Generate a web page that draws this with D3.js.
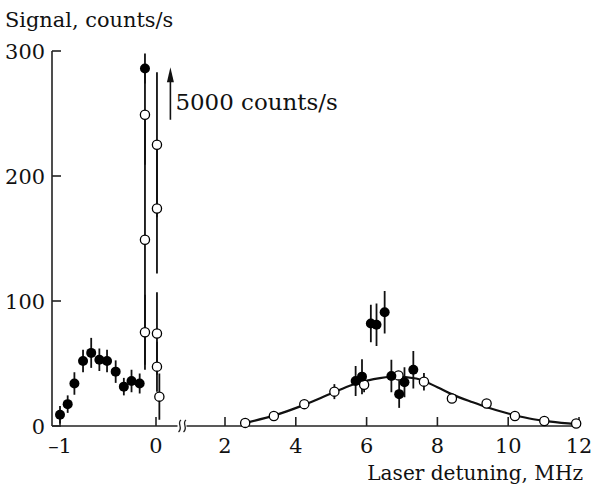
<!DOCTYPE html>
<html>
<head>
<meta charset="utf-8">
<script src="https://cdn.jsdelivr.net/npm/d3@7"></script>
<style>
  html, body { margin: 0; padding: 0; background: #fff; }
  svg { display: block; }
</style>
</head>
<body>
<svg id="chart" width="595" height="490"></svg>
<script>
// Signal vs laser detuning: [detuning MHz, signal counts/s, error half-width]
const leftSolid = [
  [-1.00, 9, 7], [-0.92, 17.5, 7], [-0.85, 34, 9], [-0.76, 52, 9],
  [-0.675, 58.5, 12], [-0.59, 53, 9], [-0.51, 52, 9], [-0.42, 43.5, 9],
  [-0.335, 31.5, 7], [-0.255, 36, 9], [-0.17, 34, 8], [-0.115, 286, 12]
];
const leftOpen = [
  [-0.115, 249, 40], [-0.115, 149, 100], [-0.115, 75, 30],
  [0.01, 225, 58], [0.01, 174, 52], [0.01, 74, 33], [0.01, 47.5, 20], [0.035, 23.5, 18.5]
];
const rightOpen = [
  [2.57, 2.5, 0], [3.38, 8, 0], [4.24, 17.5, 0], [5.09, 27.5, 6], [5.93, 33, 6],
  [6.9, 40.5, 0], [7.62, 35.5, 7], [8.41, 22, 0], [9.39, 18, 0], [10.19, 8, 0],
  [11.02, 4, 0], [11.92, 2, 0]
];
const rightSolid = [
  [5.69, 36, 12], [5.87, 39.5, 14], [6.12, 82, 15], [6.28, 81, 17], [6.51, 91, 17],
  [6.7, 40, 13], [6.92, 25.5, 11], [7.07, 35, 12], [7.32, 45, 15]
];
// Fitted profile through the resonance
const fitCurve = [
  [2.57, 2.5], [3.4, 8.5], [4.2, 16.5], [5.0, 26], [5.6, 33], [6.2, 37.5], [6.8, 39.5],
  [7.4, 38], [8.0, 31], [8.4, 25.5], [9.0, 19], [9.4, 15], [10.0, 10], [10.6, 6],
  [11.2, 3.5], [11.92, 1.5]
];
const yTicks = [0, 100, 200, 300];
const xTicksLeft = [-1, 0];
const xTicksRight = [2, 4, 6, 8, 10, 12];
const fmtTick = d => d < 0 ? "\u2013" + Math.abs(d) : String(d);

const svg = d3.select("#chart");
const FONT = "DejaVu Serif";
const FS = 20.5;

const y = d3.scaleLinear().domain([0, 300]).range([426, 51]);
const xL = d3.scaleLinear().domain([-1, 0]).range([60, 156]);
const xR = d3.scaleLinear().domain([2, 12]).range([225, 579]);

const axisY = 52, baseY = y(0), axisEnd = xR(12) + 1;
const breakX = 181.5;

function label(x, yy, str, anchor, size, sx) {
  return svg.append("text")
    .attr("transform", `translate(${x},${yy}) scale(${sx || 1.02},1)`)
    .style("font-family", FONT)
    .attr("font-size", size || FS)
    .attr("fill", "#111")
    .attr("text-anchor", anchor || "start")
    .text(str);
}

// axes
const ax = svg.append("g").attr("stroke", "#222").attr("stroke-width", 1.6).attr("fill", "none");
ax.append("line").attr("x1", axisY).attr("x2", axisY).attr("y1", y(300)).attr("y2", baseY);
ax.append("line").attr("x1", axisY).attr("x2", breakX - 4).attr("y1", baseY).attr("y2", baseY);
ax.append("line").attr("x1", breakX + 5).attr("x2", axisEnd).attr("y1", baseY).attr("y2", baseY);
// break marks
[breakX - 2, breakX + 3].forEach(bx => {
  ax.append("path").attr("stroke-width", 1.3)
    .attr("d", `M${bx + 1.5},${baseY - 6} C${bx - 3},${baseY - 3} ${bx + 4},${baseY + 2} ${bx - 1},${baseY + 6}`);
});

yTicks.forEach(t => {
  ax.append("line").attr("x1", axisY).attr("x2", axisY + 9).attr("y1", y(t)).attr("y2", y(t));
  label(45, y(t) + 8, String(t), "end");
});
xTicksLeft.forEach(t => {
  ax.append("line").attr("x1", xL(t)).attr("x2", xL(t)).attr("y1", baseY).attr("y2", baseY - 9);
  label(xL(t), 453, fmtTick(t), "middle");
});
xTicksRight.forEach(t => {
  ax.append("line").attr("x1", xR(t)).attr("x2", xR(t)).attr("y1", baseY).attr("y2", baseY - 9);
  label(xR(t), 453, fmtTick(t), "middle");
});

label(5, 27, "Signal, counts/s");
label(583, 480, "Laser detuning, MHz", "end", FS, 0.98);

// fit line
svg.append("path")
  .datum(fitCurve)
  .attr("fill", "none").attr("stroke", "#111").attr("stroke-width", 2.2)
  .attr("d", d3.line().x(d => xR(d[0])).y(d => y(d[1])).curve(d3.curveMonotoneX));

// error bars
function errBars(data, xs) {
  svg.append("g").attr("stroke", "#111").attr("stroke-width", 1.8)
    .selectAll("line").data(data.filter(d => d[2] > 0)).join("line")
    .attr("x1", d => xs(d[0])).attr("x2", d => xs(d[0]))
    .attr("y1", d => y(d[1] + d[2])).attr("y2", d => y(Math.max(0, d[1] - d[2])));
}
errBars(leftOpen, xL); errBars(leftSolid, xL);
errBars(rightOpen, xR); errBars(rightSolid, xR);

function dots(data, xs, filled) {
  svg.append("g").selectAll("circle").data(data).join("circle")
    .attr("cx", d => xs(d[0])).attr("cy", d => y(d[1]))
    .attr("r", filled ? 5 : 4.6)
    .attr("fill", filled ? "#000" : "#fff")
    .attr("stroke", "#000").attr("stroke-width", filled ? 0 : 1.3);
}
dots(leftOpen, xL, false); dots(leftSolid, xL, true);
dots(rightOpen, xR, false); dots(rightSolid, xR, true);

// off-scale arrow
const arX = xL(0.15);
svg.append("line").attr("x1", arX).attr("x2", arX).attr("y1", y(245)).attr("y2", y(280))
  .attr("stroke", "#111").attr("stroke-width", 1.6);
svg.append("path").attr("fill", "#111")
  .attr("d", `M${arX},${y(287)} L${arX - 3.5},${y(275)} L${arX + 3.5},${y(275)} Z`);
label(arX + 5, 110, "5000 counts/s", "start", 22.5);
</script>
</body>
</html>
